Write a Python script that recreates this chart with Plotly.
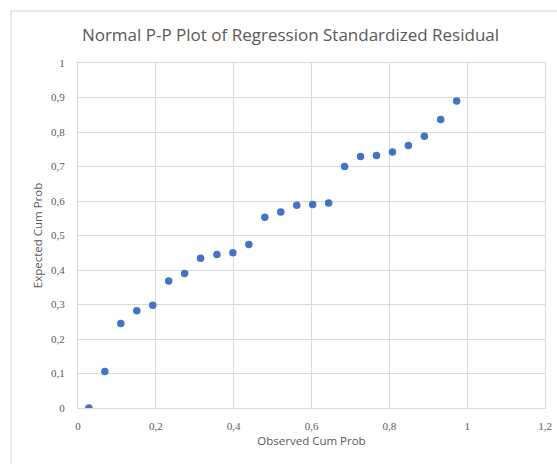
import plotly.graph_objects as go

observed_cum_prob = [0.028, 0.069, 0.110, 0.151, 0.192, 0.233, 0.274, 0.315,
                     0.357, 0.398, 0.439, 0.480, 0.521, 0.562, 0.603, 0.644,
                     0.685, 0.726, 0.767, 0.808, 0.849, 0.890, 0.932, 0.973]
expected_cum_prob = [0.000, 0.106, 0.245, 0.282, 0.298, 0.368, 0.390, 0.434,
                     0.445, 0.450, 0.474, 0.553, 0.568, 0.588, 0.590, 0.594,
                     0.700, 0.729, 0.732, 0.742, 0.761, 0.788, 0.836, 0.890]

x_ticks = [0, 0.2, 0.4, 0.6, 0.8, 1, 1.2]
x_tick_labels = ["0", "0,2", "0,4", "0,6", "0,8", "1", "1,2"]
y_ticks = [0, 0.1, 0.2, 0.3, 0.4, 0.5, 0.6, 0.7, 0.8, 0.9, 1]
y_tick_labels = ["0", "0,1", "0,2", "0,3", "0,4", "0,5", "0,6", "0,7", "0,8", "0,9", "1"]

title_text = "Normal P-P Plot of Regression Standardized Residual"
x_title = "Observed Cum Prob"
y_title = "Expected Cum Prob"

fig = go.Figure()
fig.add_trace(go.Scatter(
    x=observed_cum_prob, y=expected_cum_prob, mode="markers",
    marker=dict(color="#4472C4", size=7.5, line=dict(width=0)),
    showlegend=False, hoverinfo="x+y",
))

grid = "#d9d9d9"
tick_font = dict(family="Liberation Serif", size=11, color="#595959")
label_font = dict(family="Open Sans", size=11.5, color="#595959")
fig.update_layout(
    width=557, height=464,
    margin=dict(l=78, r=12, t=63, b=56),
    paper_bgcolor="white", plot_bgcolor="white",
    separators=", ",
    title=dict(text=title_text, x=0.455, xref="paper", xanchor="center",
               y=1 - 35 / 464, yref="container", yanchor="middle",
               font=dict(family="Open Sans", size=17, color="#595959")),
    xaxis=dict(range=[0, 1.2], tickvals=x_ticks, ticktext=x_tick_labels,
               showgrid=True, gridcolor=grid, gridwidth=1, zeroline=False,
               showline=True, linecolor=grid, linewidth=1, mirror=True,
               ticks="", tickfont=tick_font, ticklabelstandoff=8,
               automargin=False,
               title=dict(text=x_title, standoff=5, font=label_font)),
    yaxis=dict(range=[0, 1], tickvals=y_ticks, ticktext=y_tick_labels,
               showgrid=True, gridcolor=grid, gridwidth=1, zeroline=False,
               showline=True, linecolor=grid, linewidth=1, mirror=True,
               ticks="", tickfont=tick_font, ticklabelstandoff=10,
               automargin=False,
               title=dict(text=y_title, standoff=6, font=label_font)),
    shapes=[dict(type="rect", xref="paper", yref="paper",
                 x0=(11 - 78) / 467, x1=(600 - 78) / 467,
                 y0=(408 - 500) / 345, y1=(408 - 11) / 345,
                 line=dict(color="#d0d0d0", width=1), fillcolor="rgba(0,0,0,0)",
                 layer="above")],
)

fig.write_html("out.html", config={"displayModeBar": False},
               post_script="document.body.style.margin='0';document.body.style.padding='0';")
